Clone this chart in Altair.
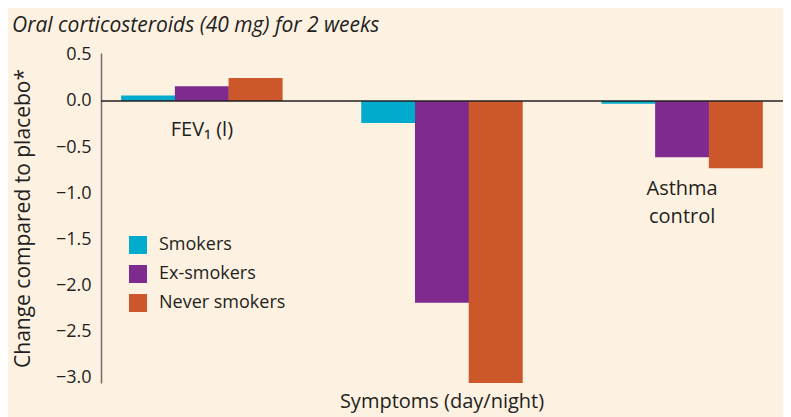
import altair as alt
import pandas as pd

groups = ["FEV1", "Symptoms", "Asthma"]
statuses = ["Smokers", "Ex-smokers", "Never smokers"]
colors = ["#00abcd", "#7f2a8f", "#cb572b"]
smokers = [0.06, -0.24, -0.03]
ex_smokers = [0.16, -2.19, -0.61]
never_smokers = [0.25, -3.06, -0.73]

label_groups = ["FEV1", "Symptoms", "Asthma", "Asthma"]
label_texts = ["FEV₁ (l)", "Symptoms (day/night)", "Asthma", "control"]
label_y = [-0.31, -3.27, -0.95, -1.255]

title_text = "Oral corticosteroids (40 mg) for 2 weeks"
y_title = "Change compared to placebo*"

rows = []
for i, g in enumerate(groups):
    for s, vals in zip(statuses, [smokers, ex_smokers, never_smokers]):
        rows.append({"group": g, "status": s, "value": vals[i]})
df = pd.DataFrame(rows)
labels_df = pd.DataFrame({"group": label_groups, "text": label_texts, "y": label_y})

FONT = "Open Sans"
TXT = "#231f20"

xscale = alt.Scale(domain=groups, paddingInner=0.329, paddingOuter=0.0846)
yscale = alt.Scale(domain=[-3.06, 0.52], nice=False, zero=False)

bars = alt.Chart(df).mark_bar(size=54).encode(
    x=alt.X("group:N", sort=groups, scale=xscale, axis=None),
    xOffset=alt.XOffset("status:N", sort=statuses,
                        scale=alt.Scale(domain=statuses, paddingInner=0, paddingOuter=0)),
    y=alt.Y("value:Q", scale=yscale,
            axis=alt.Axis(title=y_title, values=[0.5, 0, -0.5, -1, -1.5, -2, -2.5, -3],
                          format=".1f", ticks=False, grid=False, labelPadding=10,
                          labelFontSize=18, labelColor=TXT, labelFont=FONT,
                          titleFontSize=21, titleFont=FONT, titleColor=TXT,
                          titleFontWeight="normal", titlePadding=22,
                          domainColor="#6d6e70", domainWidth=1.5)),
    color=alt.Color("status:N", sort=statuses,
                    scale=alt.Scale(domain=statuses, range=colors),
                    legend=alt.Legend(title=None, orient="none", legendX=28, legendY=183,
                                      symbolType="square", symbolSize=324,
                                      symbolStrokeWidth=0, symbolOpacity=1,
                                      labelFontSize=18, labelFont=FONT, labelColor=TXT,
                                      labelOffset=12, rowPadding=11)),
)

zero = alt.Chart(pd.DataFrame({"v": [0]})).mark_rule(color=TXT, strokeWidth=1.5).encode(
    y=alt.Y("v:Q", scale=yscale), x=alt.value(0), x2=alt.value(690)
)

labels = alt.Chart(labels_df).mark_text(
    fontSize=20, font=FONT, color=TXT, align="center", baseline="middle"
).encode(
    x=alt.X("group:N", sort=groups, scale=xscale, axis=None),
    y=alt.Y("y:Q", scale=yscale),
    text="text:N",
)

title = alt.Chart(pd.DataFrame({"t": [title_text]})).mark_text(
    fontSize=21, font=FONT, fontStyle="italic", color=TXT, align="left", baseline="alphabetic"
).encode(x=alt.value(-89), y=alt.value(-21), text="t:N")

chart = alt.layer(bars, zero, labels, title).properties(
    width=682, height=330,
    autosize=alt.AutoSizeParams(type="none"),
    padding={"left": 93, "top": 45, "right": 0, "bottom": 34},
    background="#fdf1e2",
).configure_view(stroke=None)

chart.save("out.html", embed_options={"renderer": "svg", "actions": False})
